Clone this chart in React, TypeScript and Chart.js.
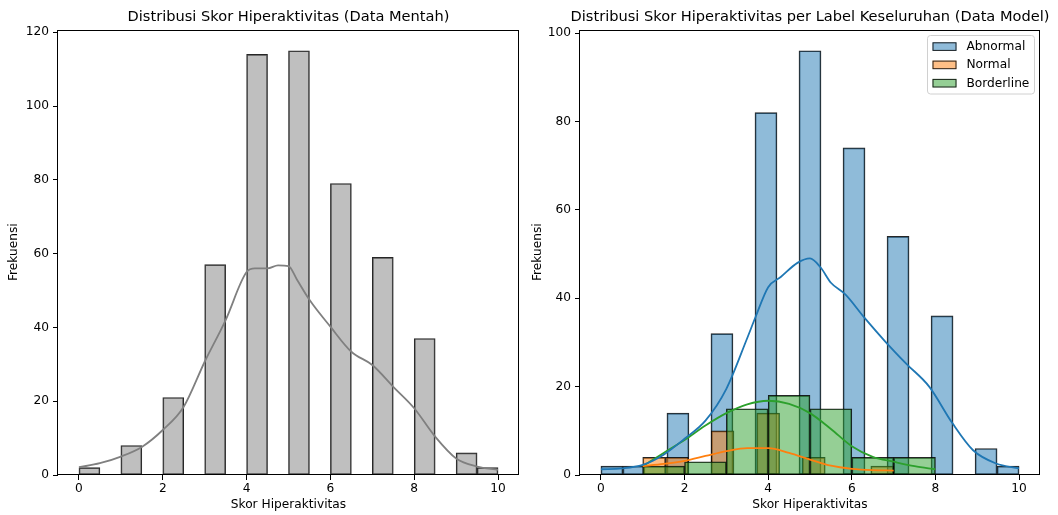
import React, { useEffect, useRef } from "react";
import { Chart, registerables } from "chart.js";

Chart.register(...registerables);

const FONT = "'DejaVu Sans', 'Liberation Sans', sans-serif";

// ---------- data ----------
const xTicks = [0, 2, 4, 6, 8, 10];
const rawYTicks = [0, 20, 40, 60, 80, 100, 120];
const modelYTicks = [0, 20, 40, 60, 80, 100];

// Left: raw data histogram (range 0..10, 20 bins)
const rawRange = [0, 10];
const rawCounts = [2, 0, 8, 0, 21, 0, 57, 0, 114, 0, 115, 0, 79, 0, 59, 0, 37, 0, 6, 2];
const rawKdeX = [0, 0.5, 1, 1.5, 2, 2.5, 3, 3.5, 4, 4.2, 4.5, 4.75, 5, 5.2, 5.5, 6, 6.5, 7, 7.5, 8, 8.5, 9, 9.5, 10];
const rawKdeY = [2.1, 3.2, 5.0, 7.6, 12.2, 18.5, 30.7, 42, 55, 56, 56, 56.8, 56.6, 53, 47.5, 40.2, 33.4, 29.8, 23.9, 18.1, 10.4, 4.5, 2.3, 1.4];

// Right: per label
const labels = ["Abnormal", "Normal", "Borderline"];
const abnormalRange = [0, 10];
const abnormalCounts = [2, 2, 0, 14, 0, 32, 0, 82, 0, 96, 0, 74, 0, 54, 0, 36, 0, 6, 2];
const normalRange = [1, 7];
const normalCounts = [4, 4, 0, 10, 0, 14, 0, 4, 0, 0, 2];
const borderlineRange = [1, 8];
const borderlineCounts = [2, 3, 15, 18, 15, 4, 4];

const abnormalKdeX = [0, 0.5, 1, 1.5, 2, 2.5, 3, 3.5, 3.7, 4, 4.3, 4.7, 5, 5.25, 5.5, 5.85, 6.3, 6.8, 7.3, 7.85, 8.4, 8.9, 9.45, 10];
const abnormalKdeY = [1.3, 1.5, 2.3, 4.6, 8.2, 12.3, 19.5, 31, 35.8, 42.5, 44.8, 48, 49, 47, 43.5, 40.8, 35.6, 30.2, 25.2, 20, 11.8, 5.6, 2.6, 1.5];
const normalKdeX = [1, 1.5, 2, 2.5, 3, 3.5, 4, 4.5, 5, 5.5, 6, 6.5, 7];
const normalKdeY = [2.0, 2.5, 3.2, 4.3, 5.4, 6.1, 6.1, 5.0, 3.5, 2.1, 1.4, 1.1, 1.0];
const borderlineKdeX = [1, 1.5, 2, 2.5, 3, 3.5, 4, 4.5, 5, 5.5, 6, 6.5, 7, 7.5, 8];
const borderlineKdeY = [2.0, 5.0, 7.9, 11.2, 14.0, 16.0, 16.8, 16.1, 14.0, 10.4, 6.5, 4.1, 3.0, 2.0, 1.3];

// ---------- styles ----------
const BLUE = "#1f77b4";
const ORANGE = "#ff7f0e";
const GREEN = "#2ca02c";
const fillA = (hex: string, a: number) => {
  const r = parseInt(hex.slice(1, 3), 16), g = parseInt(hex.slice(3, 5), 16), b = parseInt(hex.slice(5, 7), 16);
  return `rgba(${r},${g},${b},${a})`;
};
const EDGE = "rgba(0,0,0,0.85)";
const FS = 12.2;
const tickFont = { family: FONT, size: FS };

function binCenters(lo: number, hi: number, n: number) {
  const w = (hi - lo) / n;
  return Array.from({ length: n }, (_, i) => lo + w * (i + 0.5));
}
function hist(range: number[], counts: number[]) {
  const c = binCenters(range[0], range[1], counts.length);
  return counts.map((y, i) => ({ x: c[i], y }));
}
function pts(xs: number[], ys: number[]) {
  return xs.map((x, i) => ({ x, y: ys[i] }));
}

function xAxis(hidden: boolean) {
  const base: any = {
    type: "linear",
    min: -0.5,
    max: 10.5,
    offset: false,
    afterBuildTicks: (s: any) => {
      s.ticks = xTicks.map((v) => ({ value: v }));
    },
  };
  if (hidden) return { ...base, display: false, grid: { offset: false } };
  return {
    ...base,
    position: "bottom",
    afterFit: (s: any) => {
      s.height = 40;
    },
    grid: { display: true, offset: false, drawOnChartArea: false, drawTicks: true, tickLength: 5, color: "#000", lineWidth: 1 },
    border: { display: false },
    ticks: { color: "#000", font: tickFont, padding: 2, maxRotation: 0, autoSkip: false },
    title: { display: true, text: "Skor Hiperaktivitas", color: "#000", font: tickFont, padding: { top: 0, bottom: 2.7 } },
  };
}

function yAxis(max: number, ticks: number[], width: number, titlePad: number) {
  return {
    type: "linear",
    min: 0,
    max,
    afterBuildTicks: (s: any) => {
      s.ticks = ticks.map((v) => ({ value: v }));
    },
    afterFit: (s: any) => {
      s.width = width;
    },
    grid: { display: true, offset: false, drawOnChartArea: false, drawTicks: true, tickLength: 5, color: "#000", lineWidth: 1 },
    border: { display: false },
    ticks: { color: "#000", font: tickFont, padding: 4 },
    title: { display: true, text: "Frekuensi", color: "#000", font: tickFont, padding: { top: titlePad, bottom: 0 } },
  };
}

function decorPlugin(title: string, legend: boolean) {
  return {
    id: "decor",
    afterDraw(chart: any) {
      const { ctx, chartArea } = chart;
      const { left, right, top, bottom } = chartArea;
      ctx.save();
      // spines
      ctx.strokeStyle = "#000";
      ctx.lineWidth = 1;
      const l = Math.round(left) - 0.5, r = Math.round(right) - 0.5, t = Math.round(top) + 0.5, b = Math.round(bottom) - 0.5;
      ctx.strokeRect(l, t, r - l, b - t);
      // title
      ctx.fillStyle = "#000";
      ctx.font = `14.6px ${FONT}`;
      ctx.textAlign = "center";
      ctx.textBaseline = "middle";
      ctx.fillText(title, (left + right) / 2, 17);
      if (legend) {
        const bx = right - 112.5, by = top + 6, bw = 107, bh = 58.5;
        ctx.fillStyle = "rgba(255,255,255,0.8)";
        ctx.strokeStyle = "#d0d0d0";
        ctx.beginPath();
        ctx.roundRect(bx, by, bw, bh, 3);
        ctx.fill();
        ctx.stroke();
        const colors = [BLUE, ORANGE, GREEN];
        ctx.font = `${FS}px ${FONT}`;
        ctx.textAlign = "left";
        labels.forEach((lab, i) => {
          const cy = by + 11 + i * 18.3;
          ctx.fillStyle = fillA(colors[i], 0.5);
          ctx.fillRect(bx + 5, cy - 4.2, 24, 8.4);
          ctx.strokeStyle = EDGE;
          ctx.strokeRect(bx + 5.5, cy - 3.7, 23, 7.6);
          ctx.fillStyle = "#000";
          ctx.fillText(lab, bx + 39, cy + 0.5);
        });
      }
      ctx.restore();
    },
  };
}

function barDs(data: any[], color: string, order: number, axis: string) {
  return {
    type: "bar",
    data,
    backgroundColor: color,
    borderColor: EDGE,
    borderWidth: 1,
    borderSkipped: false,
    barPercentage: 1,
    categoryPercentage: 1,
    grouped: false,
    xAxisID: axis,
    yAxisID: "y",
    order,
  };
}
function lineDs(data: any[], color: string, order: number) {
  return {
    type: "line",
    data,
    borderColor: color,
    borderWidth: 1.8,
    pointRadius: 0,
    fill: false,
    cubicInterpolationMode: "monotone",
    xAxisID: "x",
    yAxisID: "y",
    order,
  };
}

function rawConfig(): any {
  return {
    type: "bar",
    data: {
      datasets: [
        lineDs(pts(rawKdeX, rawKdeY), "#808080", 0),
        barDs(hist(rawRange, rawCounts), "rgba(128,128,128,0.5)", 1, "x"),
      ],
    },
    options: {
      responsive: false,
      animation: false,
      devicePixelRatio: 1,
      layout: { padding: { left: 0, right: 10, top: 29.5, bottom: 0 } },
      plugins: { legend: { display: false }, tooltip: { enabled: false }, title: { display: false } },
      scales: { x: xAxis(false), y: yAxis(120.75, rawYTicks, 58, 6.2) },
    },
    plugins: [decorPlugin("Distribusi Skor Hiperaktivitas (Data Mentah)", false)],
  };
}

function modelConfig(): any {
  return {
    type: "bar",
    data: {
      datasets: [
        lineDs(pts(abnormalKdeX, abnormalKdeY), BLUE, 0),
        lineDs(pts(normalKdeX, normalKdeY), ORANGE, 1),
        lineDs(pts(borderlineKdeX, borderlineKdeY), GREEN, 2),
        barDs(hist(borderlineRange, borderlineCounts), fillA(GREEN, 0.5), 3, "xB"),
        barDs(hist(normalRange, normalCounts), fillA(ORANGE, 0.5), 4, "xN"),
        barDs(hist(abnormalRange, abnormalCounts), fillA(BLUE, 0.5), 5, "x"),
      ],
    },
    options: {
      responsive: false,
      animation: false,
      devicePixelRatio: 1,
      layout: { padding: { left: 0, right: 18, top: 29.5, bottom: 0 } },
      plugins: { legend: { display: false }, tooltip: { enabled: false }, title: { display: false } },
      scales: {
        x: xAxis(false),
        xN: xAxis(true),
        xB: xAxis(true),
        y: yAxis(100.8, modelYTicks, 51, 1.7),
      },
    },
    plugins: [decorPlugin("Distribusi Skor Hiperaktivitas per Label Keseluruhan (Data Model)", true)],
  };
}

function ChartCanvas({ make, left }: { make: () => any; left: number }) {
  const ref = useRef<HTMLCanvasElement>(null);
  useEffect(() => {
    const chart = new Chart(ref.current as HTMLCanvasElement, make());
    return () => chart.destroy();
  }, []);
  return (
    <canvas
      ref={ref}
      width={529}
      height={515}
      style={{ position: "absolute", left, top: 0, width: 529, height: 515 }}
    />
  );
}

export default function App() {
  return (
    <div style={{ position: "absolute", left: 0, top: 0, width: 1058, height: 515, background: "#fff" }}>
      <ChartCanvas make={rawConfig} left={0} />
      <ChartCanvas make={modelConfig} left={529} />
    </div>
  );
}
